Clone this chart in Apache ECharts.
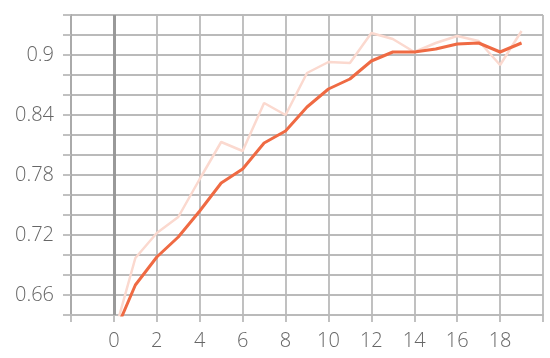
<!DOCTYPE html>
<html>
<head>
	<meta charset="utf-8">
	<script src="https://cdn.jsdelivr.net/npm/echarts@6/dist/echarts.min.js"></script>
</head>
<body style="margin:0;background:#fff;">
	<div id="container" style="width:550px;height:358px;"></div>
	<script type="text/javascript">

	// step index
	var steps = [0,1,2,3,4,5,6,7,8,9,10,11,12,13,14,15,16,17,18,19];
	// raw values (light line)
	var raw = [0.62,0.697,0.722,0.738,0.776,0.813,0.804,0.852,0.840,0.882,0.893,0.892,0.922,0.916,0.903,0.912,0.919,0.914,0.890,0.924];
	// smoothed values (dark line)
	var smoothed = [0.62,0.670,0.698,0.718,0.744,0.772,0.786,0.812,0.824,0.848,0.866,0.876,0.894,0.903,0.903,0.906,0.911,0.912,0.903,0.912];

	function pairs(xs, ys) {
		var out = [];
		for (var i = 0; i < xs.length; i++) out.push([xs[i], ys[i]]);
		return out;
	}

	var gridColor = '#bababa';
	var labelFont = { color: '#666', fontSize: 20, fontFamily: 'Open Sans', fontWeight: 300 };

	var myChart = echarts.init(document.getElementById('container'));
	myChart.setOption({
		animation: false,
		grid: { left: 71, right: 7, top: 15, bottom: 43 },
		xAxis: {
			type: 'value',
			min: -2, max: 20, interval: 2,
			axisLine: { show: true, onZero: false, lineStyle: { color: gridColor, width: 1.8 } },
			axisTick: { show: true, length: 7, lineStyle: { color: gridColor, width: 1.8 } },
			splitLine: { show: true, lineStyle: { color: gridColor, width: 1.8 } },
			axisLabel: Object.assign({
				margin: 16,
				formatter: function (v) { return (v < 0 || v > 19) ? '' : String(v); }
			}, labelFont)
		},
		yAxis: {
			type: 'value',
			min: 0.64, max: 0.94, interval: 0.02,
			axisLine: { show: true, onZero: false, lineStyle: { color: '#aaa', width: 2 } },
			axisTick: { show: true, length: 8, lineStyle: { color: gridColor, width: 1.8 } },
			splitLine: { show: true, lineStyle: { color: gridColor, width: 1.8 } },
			axisLabel: Object.assign({
				margin: 17,
				formatter: function (v) {
					var k = Math.round(v * 100);
					return k % 6 === 0 ? String(k / 100) : '';
				}
			}, labelFont)
		},
		series: [
			{
				type: 'line',
				data: pairs(steps, raw),
				symbol: 'none',
				lineStyle: { color: '#fbd9cf', width: 2.5 },
				markLine: {
					silent: true,
					symbol: 'none',
					label: { show: false },
					lineStyle: { color: '#999', width: 3, type: 'solid' },
					data: [{ xAxis: 0 }]
				}
			},
			{
				type: 'line',
				data: pairs(steps, smoothed),
				symbol: 'none',
				lineStyle: { color: '#ef6a43', width: 3 }
			}
		]
	});
	</script>
</body>
</html>
